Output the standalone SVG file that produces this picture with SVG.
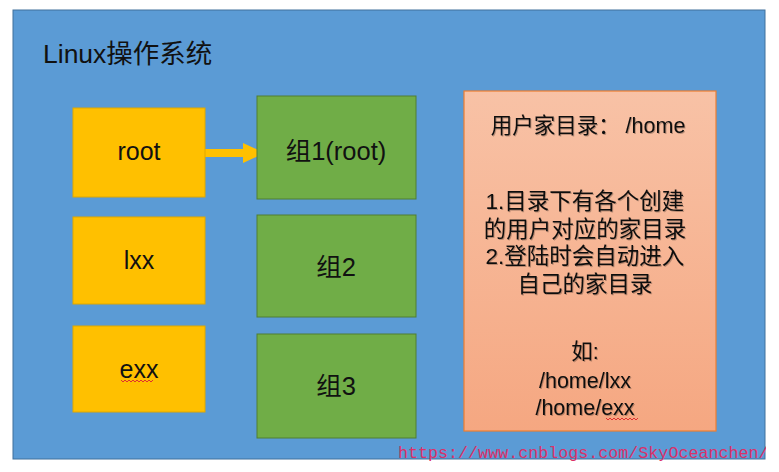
<svg xmlns="http://www.w3.org/2000/svg" width="779" height="472" viewBox="0 0 779 472">
<style>
.t{font-family:"Liberation Sans","Noto Sans CJK SC",sans-serif;fill:#111;text-anchor:middle}
.user{fill:#FFC000;stroke:#E0A800;stroke-width:1}
.grp{fill:#70AD47;stroke:#507E32;stroke-width:1}
.wavy{fill:none;stroke:#E03030;stroke-width:1}
</style>
<defs>
<linearGradient id="sal" x1="0" y1="0" x2="0" y2="1">
<stop offset="0" stop-color="#F8C2A6"/>
<stop offset="1" stop-color="#F5A781"/>
</linearGradient>
<filter id="sh" x="-5%" y="-5%" width="110%" height="120%">
<feDropShadow dx="1" dy="1" stdDeviation="0.6" flood-color="#000" flood-opacity="0.25"/>
</filter>
<clipPath id="clipUrl"><rect x="0" y="0" width="766" height="472"/></clipPath>
</defs>
<rect width="779" height="472" fill="#FFFFFF"/>
<g id="container">
<rect x="13" y="10" width="752" height="449" fill="#5B9BD5" stroke="#41719C" stroke-width="1"/>
<text class="t" x="43" y="63" font-size="26.5" style="text-anchor:start">Linux操作系统</text>
</g>
<g id="connectors">
<polygon points="205,149 243,149 243,143 265,153 243,163 243,157 205,157" fill="#FFC000"/>
</g>
<g id="node-root">
<rect class="user" x="73" y="108" width="132" height="89"/>
<text class="t" x="139" y="160" font-size="25">root</text>
</g>
<g id="node-lxx">
<rect class="user" x="73" y="217" width="132" height="87"/>
<text class="t" x="139" y="269" font-size="25">lxx</text>
</g>
<g id="node-exx">
<rect class="user" x="73" y="326" width="132" height="86"/>
<text class="t" x="139" y="378" font-size="25">exx</text>
<path class="wavy" d="M121,380 l2,2 l2,-2 l2,2 l2,-2 l2,2 l2,-2 l2,2 l2,-2 l2,2 l2,-2 l2,2 l2,-2 l2,2 l2,-2 l2,2 l2,-2"/>
</g>
<g id="node-g1">
<rect class="grp" x="257" y="96" width="159" height="103"/>
<text class="t" x="336" y="160" font-size="25.5">组1(root)</text>
</g>
<g id="node-g2">
<rect class="grp" x="257" y="215" width="159" height="102"/>
<text class="t" x="336" y="276" font-size="25.5">组2</text>
</g>
<g id="node-g3">
<rect class="grp" x="257" y="334" width="159" height="104"/>
<text class="t" x="336" y="395" font-size="25.5">组3</text>
</g>
<g id="node-home">
<rect x="464" y="91" width="252" height="340" fill="url(#sal)" stroke="#ED7D31" stroke-width="1.2"/>
<g filter="url(#sh)">
<text class="t" x="588" y="133" font-size="21.5">用户家目录： /home</text>
<text class="t" x="585" y="209" font-size="22.5">1.目录下有各个创建</text>
<text class="t" x="585" y="237" font-size="22.5">的用户对应的家目录</text>
<text class="t" x="585" y="264" font-size="22.5">2.登陆时会自动进入</text>
<text class="t" x="585" y="292" font-size="22.5">自己的家目录</text>
<text class="t" x="585" y="359" font-size="21.5">如:</text>
<text class="t" x="585" y="388" font-size="21.5">/home/lxx</text>
<text class="t" x="585" y="415" font-size="21.5">/home/exx</text>
</g>
<path class="wavy" d="M606,418 l2,2 l2,-2 l2,2 l2,-2 l2,2 l2,-2 l2,2 l2,-2 l2,2 l2,-2 l2,2 l2,-2 l2,2 l2,-2 l2,2 l2,-2"/>
</g>
<g id="watermark" clip-path="url(#clipUrl)">
<text x="398" y="458" font-family="'Liberation Mono','DejaVu Sans Mono',monospace" font-size="16.7" fill="#DC3068">https://www.cnblogs.com/SkyOceanchen/</text>
</g>
</svg>
